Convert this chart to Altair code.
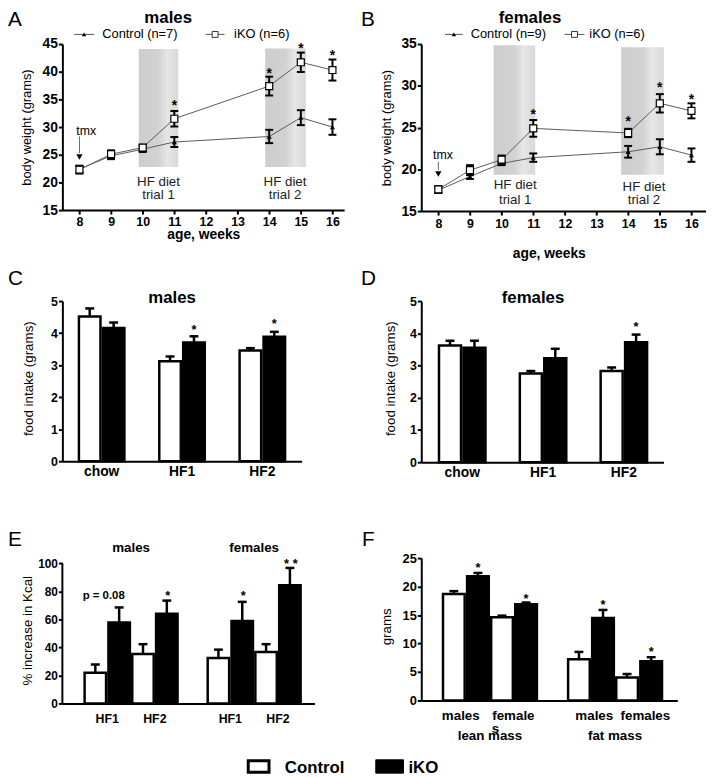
import altair as alt
import pandas as pd

FONT = "Liberation Sans"

# ---------------- data: A / B body weight ----------------
weeks = [8, 9, 10, 11, 14, 15, 16]
week_ticks = [8, 9, 10, 11, 12, 13, 14, 15, 16]
groups = ["Control", "iKO"]

male_ctrl = [22.4, 24.8, 26.0, 27.3, 28.3, 31.7, 30.0]
male_ctrl_err = [0.6, 0.6, 0.5, 0.9, 1.2, 1.35, 1.4]
male_ko = [22.3, 25.1, 26.3, 31.5, 37.4, 41.7, 40.3]
male_ko_err = [0.7, 0.7, 0.5, 1.4, 1.7, 1.75, 1.9]
male_star_weeks = [11, 14, 15, 16]
male_star_y = [34.3, 40.2, 44.6, 43.35]

fem_ctrl = [17.5, 19.15, 20.7, 21.4, 22.1, 22.7, 21.7]
fem_ctrl_err = [0.3, 0.3, 0.2, 0.5, 0.7, 0.9, 0.8]
fem_ko = [17.6, 19.9, 21.15, 24.9, 24.35, 27.9, 27.0]
fem_ko_err = [0.4, 0.6, 0.5, 1.0, 0.5, 1.1, 0.9]
fem_star_weeks = [11, 14, 15, 16]
fem_star_y = [26.9, 25.96, 30.1, 28.7]

# HF diet windows (weeks) and their vertical extent (grams)
male_hf_start = [9.875, 13.875]
male_hf_end = [11.125, 15.16]
male_hf_low = [22.8, 22.8]
male_hf_high = [44.1, 44.2]
fem_hf_start = [9.75, 13.78]
fem_hf_end = [11.06, 15.125]
fem_hf_low = [19.35, 19.35]
fem_hf_high = [34.85, 34.6]

# ---------------- data: C / D food intake ----------------
diets = ["chow", "HF1", "HF2"]
male_food_ctrl = [4.52, 3.12, 3.46]
male_food_ctrl_err = [0.25, 0.15, 0.07]
male_food_ko = [4.16, 3.71, 3.89]
male_food_ko_err = [0.17, 0.19, 0.15]
male_food_star_diets = ["HF1", "HF2"]
male_food_star_y = [4.2, 4.36]

fem_food_ctrl = [3.62, 2.75, 2.83]
fem_food_ctrl_err = [0.15, 0.08, 0.11]
fem_food_ko = [3.55, 3.23, 3.72]
fem_food_ko_err = [0.22, 0.29, 0.24]
fem_food_star_diets = ["HF2"]
fem_food_star_y = [4.28]

# ---------------- data: E % increase in kcal ----------------
sexes = ["males", "females"]
trials = ["HF1", "HF2"]
# order: males HF1, males HF2, females HF1, females HF2
kcal_ctrl = [21.9, 35.3, 32.5, 36.7]
kcal_ctrl_err = [5.9, 7.0, 5.9, 5.6]
kcal_ko = [57.7, 64.0, 58.8, 84.3]
kcal_ko_err = [10.8, 9.4, 13.7, 12.4]
kcal_star_sex = ["males", "females", "females"]
kcal_star_trial = ["HF2", "HF1", "HF2"]
kcal_star_text = ["*", "*", "* *"]
kcal_star_y = [78.8, 78.8, 101.4]

# ---------------- data: F body composition ----------------
tissues = ["lean mass", "fat mass"]
# order: lean males, lean females, fat males, fat females
comp_ctrl = [18.7, 14.6, 7.23, 4.05]
comp_ctrl_err = [0.5, 0.3, 1.3, 0.6]
comp_ko = [21.8, 16.9, 14.5, 6.9]
comp_ko_err = [0.6, 0.3, 1.4, 0.7]
comp_star_y = [23.8, 18.4, 17.2, 9.0]

one = pd.DataFrame({"k": [0]})

TITLE_Y = -21.5   # baseline of the A/B panel titles, relative to plot top
LETTER_Y = -18    # baseline of the A/B panel letters


def ptext(s, x, y, size, weight="normal", align="left"):
    return alt.Chart(one).mark_text(
        text=s, font=FONT, fontSize=size, fontWeight=weight, align=align,
        baseline="alphabetic", color="black"
    ).encode(x=alt.value(x), y=alt.value(y))


def shade_fill():
    return alt.Gradient(
        gradient="linear", x1=0, y1=0, x2=1, y2=0,
        stops=[
            alt.GradientStop(color="#cdcdcd", offset=0),
            alt.GradientStop(color="#d2d2d2", offset=0.5),
            alt.GradientStop(color="#e6e6e6", offset=0.72),
            alt.GradientStop(color="#d8d8d8", offset=1),
        ],
    )


def body_panel(ctrl, ctrl_err, ko, ko_err, star_w, star_y, hs, he, hl, hh,
               ydom, yvals, W, H, xdom, tmx, arrow, head_y, hf_y, hf_x1,
               leg, n_ctrl, title, title_x, letter, letter_x,
               xlab_pad, xt_x, xt_y, yt_x):
    df = pd.DataFrame({
        "week": weeks + weeks,
        "grp": ["Control"] * len(weeks) + ["iKO"] * len(weeks),
        "value": ctrl + ko,
        "err": ctrl_err + ko_err,
    })
    df["lo"] = df["value"] - df["err"]
    df["hi"] = df["value"] + df["err"]

    xs = alt.Scale(domain=xdom, nice=False, zero=False)
    ys = alt.Scale(domain=ydom, nice=False, zero=False)
    xax = alt.Axis(values=week_ticks, title="age, weeks", labelFontSize=12.5,
                   labelBaseline="alphabetic", labelPadding=xlab_pad,
                   titleFontSize=14, titleFontWeight="bold", titleX=xt_x,
                   titleY=xt_y, titleBaseline="alphabetic")
    yax = alt.Axis(values=yvals, title="body weight (grams)", labelFontSize=14,
                   labelPadding=1, titleFontSize=13, titleX=yt_x, titleY=H / 2,
                   titleAngle=270, titleBaseline="alphabetic")

    def X(f):
        return alt.X(f"{f}:Q", scale=xs, axis=xax)

    def Y(f):
        return alt.Y(f"{f}:Q", scale=ys, axis=yax)

    sdf = pd.DataFrame({"week": hs, "week2": he, "value": hl, "value2": hh})
    shades = alt.Chart(sdf).mark_rect(fill=shade_fill()).encode(
        x=X("week"), x2="week2:Q", y=Y("value"), y2="value2:Q")
    lines = alt.Chart(df).mark_line(color="#5a5a5a", strokeWidth=1).encode(
        x=X("week"), y=Y("value"), detail="grp:N")
    rules = alt.Chart(df).mark_rule(color="black", strokeWidth=2).encode(
        x=X("week"), y=Y("lo"), y2="hi:Q")
    cap_lo = alt.Chart(df).mark_tick(orient="horizontal", size=8, thickness=2,
                                     color="black", opacity=1).encode(x=X("week"), y=Y("lo"))
    cap_hi = alt.Chart(df).mark_tick(orient="horizontal", size=8, thickness=2,
                                     color="black", opacity=1).encode(x=X("week"), y=Y("hi"))
    pts_c = alt.Chart(df[df.grp == "Control"]).mark_point(
        shape="triangle-up", filled=True, color="black", size=26, opacity=1
    ).encode(x=X("week"), y=Y("value"))
    pts_k = alt.Chart(df[df.grp == "iKO"]).mark_point(
        shape="square", filled=True, fill="white", stroke="black", strokeWidth=1.2,
        size=50, opacity=1
    ).encode(x=X("week"), y=Y("value"))

    stdf = pd.DataFrame({"week": star_w, "value": star_y})
    stars = alt.Chart(stdf).mark_text(text="*", font=FONT, fontSize=14, fontWeight="bold",
                                      baseline="alphabetic", dy=7, color="black").encode(
        x=X("week"), y=Y("value"))

    tdf = pd.DataFrame({"week": [tmx[0]], "value": [tmx[1]]})
    tmx_t = alt.Chart(tdf).mark_text(text="tmx", font=FONT, fontSize=12.5, align="left",
                                     baseline="alphabetic", color="black").encode(
        x=X("week"), y=Y("value"))
    adf = pd.DataFrame({"week": [8], "value": [arrow[0]], "value2": [arrow[1]]})
    arr = alt.Chart(adf).mark_rule(color="#666", strokeWidth=1).encode(
        x=X("week"), y=Y("value"), y2="value2:Q")
    hdf = pd.DataFrame({"week": [8], "value": [head_y]})
    head = alt.Chart(hdf).mark_point(shape="triangle-down", filled=True, color="black",
                                     size=40, opacity=1).encode(x=X("week"), y=Y("value"))

    hfdf = pd.DataFrame({
        "week": [hf_x1, hf_x1, 14.5, 14.5],
        "value": hf_y,
        "label": ["HF diet", "trial 1", "HF diet", "trial 2"],
    })
    hf_t = alt.Chart(hfdf).mark_text(font=FONT, fontSize=13.5, align="center",
                                     baseline="alphabetic", color="#222").encode(
        x=X("week"), y=Y("value"), text="label:N")

    # legend
    ly = leg["y"]
    l1 = alt.Chart(one).mark_rule(color="#555", strokeWidth=1).encode(
        x=alt.value(leg["c0"]), x2=alt.value(leg["c1"]), y=alt.value(ly))
    l2 = alt.Chart(one).mark_point(shape="triangle-up", filled=True, color="black",
                                   size=20, opacity=1).encode(
        x=alt.value((leg["c0"] + leg["c1"]) / 2), y=alt.value(ly))
    l3 = alt.Chart(one).mark_rule(color="#555", strokeWidth=1).encode(
        x=alt.value(leg["k0"]), x2=alt.value(leg["k1"]), y=alt.value(ly))
    l4 = alt.Chart(one).mark_point(shape="square", filled=True, fill="white", stroke="#333",
                                   strokeWidth=1, size=36, opacity=1).encode(
        x=alt.value((leg["k0"] + leg["k1"]) / 2), y=alt.value(ly))
    l5 = ptext(f"Control (n={n_ctrl})", leg["ct"], ly + 3.3, 13)
    l6 = ptext("iKO (n=6)", leg["kt"], ly + 3.3, 13)

    ttl = ptext(title, title_x, TITLE_Y, 17, "bold", "center")
    let = ptext(letter, letter_x, LETTER_Y, 21)

    return alt.layer(shades, lines, rules, cap_lo, cap_hi, pts_c, pts_k, stars,
                     tmx_t, arr, head, hf_t, l1, l2, l3, l4, l5, l6, ttl, let
                     ).properties(width=W, height=H)


def bar_base(df, cats, subs, W, H, ydom, yvals, ytitle, yt_x, yt_y, ylab, xkw, group_px,
             xlabels, ydomain_line=True):
    xax = (alt.Axis(title=None, labelFontSize=14, labelFontWeight="bold", ticks=False,
                    tickSize=0, labelPadding=14.4, labelBaseline="alphabetic", labelAngle=0)
           if xlabels else
           alt.Axis(title=None, labels=False, ticks=False, tickSize=0))
    X = alt.X("cat:N", sort=cats, scale=alt.Scale(type="band", domain=cats, **xkw), axis=xax)
    XO = alt.XOffset("sub:N", sort=subs,
                     scale=alt.Scale(type="band", domain=subs, range=[0, group_px],
                                     paddingInner=0.1, paddingOuter=0))
    yax = alt.Axis(values=yvals, title=ytitle, labelFontSize=ylab, labelPadding=1,
                   titleFontSize=13.5, titleX=yt_x, titleY=yt_y, titleAngle=270,
                   titleBaseline="alphabetic", domain=ydomain_line)
    ys = alt.Scale(domain=ydom, nice=False, zero=True)

    def Y(f):
        return alt.Y(f"{f}:Q", scale=ys, axis=yax)

    fill = alt.Fill("grp:N", scale=alt.Scale(domain=groups, range=["white", "black"]),
                    legend=None)
    bars = alt.Chart(df).mark_bar(stroke="black", strokeWidth=2.5).encode(
        x=X, xOffset=XO, y=Y("value"), fill=fill)
    rules = alt.Chart(df).mark_rule(color="black", strokeWidth=2.5).encode(
        x=X, xOffset=XO, y=Y("value"), y2="top:Q")
    caps = alt.Chart(df).mark_tick(orient="horizontal", size=9, thickness=2.5,
                                   color="black", opacity=1).encode(
        x=X, xOffset=XO, y=Y("top"))
    return X, XO, Y, [bars, rules, caps]


def food_panel(ctrl, ctrl_err, ko, ko_err, star_d, star_y, W, H, xkw, group_px, title,
               title_x, letter, letter_x, yt_x):
    df = pd.DataFrame({
        "cat": diets + diets,
        "sub": ["Control"] * 3 + ["iKO"] * 3,
        "grp": ["Control"] * 3 + ["iKO"] * 3,
        "value": ctrl + ko,
        "err": ctrl_err + ko_err,
    })
    df["top"] = df["value"] + df["err"]
    X, XO, Y, layers = bar_base(df, diets, groups, W, H, [0, 5], [0, 1, 2, 3, 4, 5],
                                "food intake (grams)", yt_x, 78, 12.5, xkw, group_px, True)
    sdf = pd.DataFrame({"cat": star_d, "sub": ["iKO"] * len(star_d), "value": star_y})
    stars = alt.Chart(sdf).mark_text(text="*", font=FONT, fontSize=13, fontWeight="bold",
                                     baseline="alphabetic", dy=7, color="black").encode(
        x=X, xOffset=XO, y=Y("value"))
    ttl = ptext(title, title_x, 1.5, 17, "bold", "center")
    let = ptext(letter, letter_x, -16.7, 21)
    return alt.layer(*layers, stars, ttl, let).properties(width=W, height=H)


# ---------------- panels ----------------
A = body_panel(male_ctrl, male_ctrl_err, male_ko, male_ko_err, male_star_weeks, male_star_y,
               male_hf_start, male_hf_end, male_hf_low, male_hf_high,
               [15, 45], [15, 20, 25, 30, 35, 40, 45], 285, 168, [7.46, 16.37],
               (7.9, 28.6), (28.3, 25.3), 24.6, [19.4, 17.0, 19.4, 17.0], 10.5,
               {"y": -9.7, "c0": 12, "c1": 32, "ct": 40.3, "k0": 145, "k1": 164, "kt": 173.7},
               7, "males", 107, "A", -55, 12, 142.5, 28.6, -32.3)

B = body_panel(fem_ctrl, fem_ctrl_err, fem_ko, fem_ko_err, fem_star_weeks, fem_star_y,
               fem_hf_start, fem_hf_end, fem_hf_low, fem_hf_high,
               [15, 35], [15, 20, 25, 30, 35], 288, 169, [7.46, 16.46],
               (7.83, 21.2), (20.9, 19.9), 19.45, [17.65, 15.8, 17.4, 15.8], 10.43,
               {"y": -9.7, "c0": 24, "c1": 42, "ct": 50, "k0": 145, "k1": 165, "kt": 170},
               9, "females", 110, "B", -61, 13, 129, 46.7, -30.7)

C = food_panel(male_food_ctrl, male_food_ctrl_err, male_food_ko, male_food_ko_err,
               male_food_star_diets, male_food_star_y, 242, 162,
               {"paddingInner": 0.434, "paddingOuter": 0.206, "align": 0.5}, 46,
               "males", 111, "C", -55, -30.7)

D = food_panel(fem_food_ctrl, fem_food_ctrl_err, fem_food_ko, fem_food_ko_err,
               fem_food_star_diets, fem_food_star_y, 245, 163,
               {"paddingInner": 0.425, "paddingOuter": 0.211, "align": 0.52}, 47,
               "females", 113, "D", -61, -27.3)

# ---- E ----
e_rows = []
i = 0
for s in sexes:
    for t in trials:
        e_rows.append({"cat": s, "sub": f"{t}-Control", "grp": "Control",
                       "value": kcal_ctrl[i], "err": kcal_ctrl_err[i]})
        e_rows.append({"cat": s, "sub": f"{t}-iKO", "grp": "iKO",
                       "value": kcal_ko[i], "err": kcal_ko_err[i]})
        i += 1
edf = pd.DataFrame(e_rows)
edf["top"] = edf["value"] + edf["err"]
e_subs = [f"{t}-{g}" for t in trials for g in groups]
EW, EH = 255, 147
EX, EXO, EY, e_layers = bar_base(edf, sexes, e_subs, EW, EH, [0, 103.7],
                                 [0, 20, 40, 60, 80, 100], "% increase in Kcal", -31.7, 73, 12,
                                 {"paddingInner": 0.245, "paddingOuter": 0.1466, "align": 0.616},
                                 94, False, ydomain_line=False)
e_axis_line = alt.Chart(pd.DataFrame({"value": [0], "value2": [100]})).mark_rule(
    color="black", strokeWidth=2).encode(x=alt.value(0), y=EY("value"), y2="value2:Q")
e_star_df = pd.DataFrame({"cat": kcal_star_sex,
                          "sub": [f"{t}-iKO" for t in kcal_star_trial],
                          "label": kcal_star_text, "value": kcal_star_y})
e_stars = alt.Chart(e_star_df).mark_text(font=FONT, fontSize=13, fontWeight="bold",
                                         baseline="alphabetic", dy=7, dx=1, color="black").encode(
    x=EX, xOffset=EXO, y=EY("value"), text="label:N")
e_titles = alt.Chart(pd.DataFrame({"cat": sexes, "value": [107.8, 107.8]})).mark_text(
    font=FONT, fontSize=13.5, fontWeight="bold", baseline="alphabetic", color="black"
).encode(x=EX, y=EY("value"), text="cat:N")
e_p = alt.Chart(pd.DataFrame({"cat": ["males"], "sub": ["HF1-Control"], "value": [74.4]})).mark_text(
    text="p = 0.08", font=FONT, fontSize=11.5, fontWeight="bold", baseline="alphabetic",
    dx=8.5, color="black").encode(x=EX, xOffset=EXO, y=EY("value"))
e_lab_df = pd.DataFrame({"cat": [s for s in sexes for t in trials],
                         "sub": [f"{t}-Control" for s in sexes for t in trials],
                         "label": [t for s in sexes for t in trials]})
e_labs = alt.Chart(e_lab_df).mark_text(font=FONT, fontSize=12.5, fontWeight="bold",
                                       baseline="alphabetic", dx=12, color="black").encode(
    x=EX, xOffset=EXO, y=alt.value(166.7), text="label:N")
# figure legend (bottom)
leg_c = alt.Chart(one).mark_rect(fill="white", stroke="black", strokeWidth=3).encode(
    x=alt.value(188), x2=alt.value(209), y=alt.value(205), y2=alt.value(216.5))
leg_k = alt.Chart(one).mark_rect(fill="black", stroke="black", strokeWidth=1).encode(
    x=alt.value(317), x2=alt.value(345), y=alt.value(204), y2=alt.value(217.5))
leg_ct = ptext("Control", 225, 217, 17, "bold")
leg_kt = ptext("iKO", 350, 217, 17, "bold")
E = alt.layer(*e_layers, e_axis_line, e_stars, e_titles, e_p, e_labs, leg_c, leg_k, leg_ct,
              leg_kt, ptext("E", -55, -12, 21)).properties(width=EW, height=EH)

# ---- F ----
f_rows = []
i = 0
for tis in tissues:
    for s in sexes:
        f_rows.append({"cat": tis, "sub": f"{s}-Control", "grp": "Control",
                       "value": comp_ctrl[i], "err": comp_ctrl_err[i]})
        f_rows.append({"cat": tis, "sub": f"{s}-iKO", "grp": "iKO",
                       "value": comp_ko[i], "err": comp_ko_err[i]})
        i += 1
fdf = pd.DataFrame(f_rows)
fdf["top"] = fdf["value"] + fdf["err"]
f_subs = [f"{s}-{g}" for s in sexes for g in groups]
FW, FH = 259, 144
FX, FXO, FY, f_layers = bar_base(fdf, tissues, f_subs, FW, FH, [0, 25],
                                 [0, 5, 10, 15, 20, 25], "grams", -30.7, 69, 13,
                                 {"paddingInner": 0.249, "paddingOuter": 0.148, "align": 0.587},
                                 95, False)
f_star_df = pd.DataFrame({"cat": [t for t in tissues for s in sexes],
                          "sub": [f"{s}-iKO" for t in tissues for s in sexes],
                          "value": comp_star_y})
f_stars = alt.Chart(f_star_df).mark_text(text="*", font=FONT, fontSize=13, fontWeight="bold",
                                         baseline="alphabetic", dy=7, color="black").encode(
    x=FX, xOffset=FXO, y=FY("value"))
f_label_specs = [
    ("lean mass", "males-Control", "males", 7, 164),
    ("lean mass", "females-Control", "female", 11.5, 164),
    ("lean mass", "females-Control", "s", -6.5, 176.7),
    ("fat mass", "males-Control", "males", 15.5, 164),
    ("fat mass", "females-Control", "females", 18.5, 164),
]
f_labs = []
for cat, sub, lab, dx, yy in f_label_specs:
    f_labs.append(alt.Chart(pd.DataFrame({"cat": [cat], "sub": [sub]})).mark_text(
        text=lab, font=FONT, fontSize=13.5, fontWeight="bold", baseline="alphabetic",
        dx=dx, color="black").encode(x=FX, xOffset=FXO, y=alt.value(yy)))
f_tis = alt.Chart(pd.DataFrame({"cat": tissues})).mark_text(
    font=FONT, fontSize=13.5, fontWeight="bold", baseline="alphabetic", color="black"
).encode(x=FX, y=alt.value(184), text="cat:N")
F = alt.layer(*f_layers, f_stars, *f_labs, f_tis, ptext("F", -60, -12, 21)
              ).properties(width=FW, height=FH)

chart = alt.concat(
    A, B, C, D, E, F, columns=2,
    spacing=alt.RowColnumber(row=91, column=75),
    bounds="flush", align="all",
).resolve_scale(
    xOffset="independent", x="independent", y="independent"
).properties(
    padding={"top": -4, "left": 0, "right": 0, "bottom": 0}
).configure_axis(
    domainColor="black", domainWidth=2, tickColor="black", tickWidth=2, tickSize=4,
    labelColor="black", labelFont=FONT, labelFontWeight="bold", titleColor="black",
    titleFont=FONT, titleFontWeight="normal", grid=False,
).configure_view(stroke=None).configure_text(font=FONT)

chart.save("out.html", embed_options={"renderer": "svg", "actions": False})
